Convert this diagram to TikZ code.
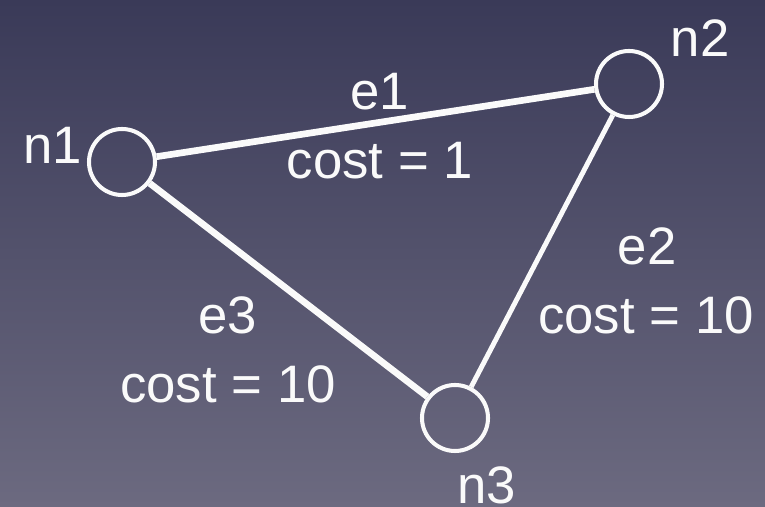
\documentclass[tikz,border=0pt]{standalone}
\usepackage{fontspec}
\setmainfont{Liberation Sans}
\usetikzlibrary{positioning}
\definecolor{Night}{HTML}{3A3A58}
\definecolor{Dusk}{HTML}{6C6A80}
\definecolor{Chalk}{HTML}{FAFAFA}
\tikzset{
  vertex/.style={
    circle, draw=Chalk, line width=2.3pt, minimum size=1.32cm, inner sep=0pt
  },
  tag/.style={text=Chalk, font=\fontsize{30}{31}\selectfont, inner sep=0pt},
  link/.style={draw=Chalk, line width=3.8pt},
  thinlink/.style={draw=Chalk, line width=2.8pt}
}

\begin{document}
\begin{tikzpicture}
    \shade[top color=Night, bottom color=Dusk] (0,0) rectangle (15.3,10.14);
    \useasboundingbox (0,0) rectangle (15.3,10.14);
    \node[vertex] (n1) at (2.44,6.90) {};
    \node[vertex] (n2) at (12.58,8.46) {};
    \node[vertex] (n3) at (9.10,1.78) {};
    \node[tag] (t1) at (1.06,7.24) {n1};
    \node[tag] (t2) at (14.0,9.38) {n2};
    \node[tag] (t3) at (9.74,0.44) {n3};
    \node[tag] (e1) at (7.6,8.30) {e1};
    \node[tag,below=0.62cm of e1] (c1) {cost = 1};
    \node[tag] (e2) at (12.94,5.22) {e2};
    \node[tag] (c2) at (12.92,3.84) {cost = 10};
    \node[tag] (e3) at (4.56,3.84) {e3};
    \node[tag,below=0.62cm of e3] (c3) {cost = 10};
    \draw[link] (n1)--(n2);
    \draw[thinlink] (n2)--(n3);
    \draw[link] (n1)--(n3);
\end{tikzpicture}
\end{document}
